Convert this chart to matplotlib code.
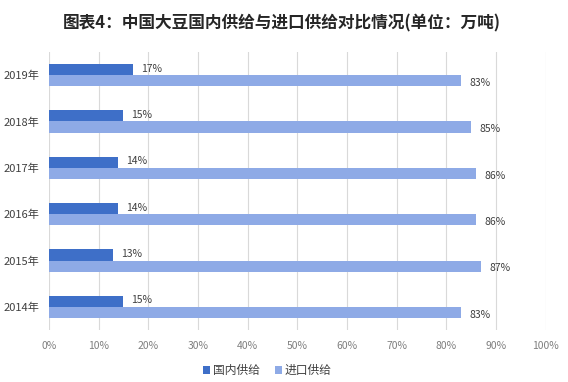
import numpy as np
import matplotlib.pyplot as plt

plt.rcParams['font.family'] = ['Noto Sans CJK SC', 'DejaVu Sans']

years = ['2014年', '2015年', '2016年', '2017年', '2018年', '2019年']
domestic = [15, 13, 14, 14, 15, 17]
imported = [83, 87, 86, 86, 85, 83]
series_names = ['国内供给', '进口供给']
colors = ['#3e6fc8', '#8eaae6']

fig = plt.figure(figsize=(5.68, 3.82), dpi=100)
ax = fig.add_axes([0.086, 0.136, 0.875, 0.728])

y = np.arange(len(years))
h = 0.24
b1 = ax.barh(y + h / 2, domestic, height=h, color=colors[0], label=series_names[0], zorder=3)
b2 = ax.barh(y - h / 2, imported, height=h, color=colors[1], label=series_names[1], zorder=3)

for bar, v in zip(b1, domestic):
    ax.text(bar.get_width() + 1.6, bar.get_y() + bar.get_height() / 2 + 0.02, f'{v}%',
            va='center', ha='left', fontsize=7.5, color='#404040')
for bar, v in zip(b2, imported):
    ax.text(bar.get_width() + 1.6, bar.get_y() + bar.get_height() / 2 - 0.05, f'{v}%',
            va='center', ha='left', fontsize=7.5, color='#404040')

ax.set_xlim(0, 100)
ax.set_ylim(-0.5, 5.5)
ax.set_xticks(np.arange(0, 101, 10))
ax.set_xticklabels([f'{t}%' for t in range(0, 101, 10)])
ax.set_yticks(y)
ax.set_yticklabels(years)
ax.tick_params(axis='x', length=0, labelsize=7.5, colors='#7f7f7f', pad=8)
ax.tick_params(axis='y', length=0, labelsize=8, colors='#404040', pad=7)
ax.grid(axis='x', color='#d9d9d9', linewidth=0.8, zorder=0)
for s in ax.spines.values():
    s.set_visible(False)

fig.suptitle('图表4：中国大豆国内供给与进口供给对比情况(单位：万吨)', x=0.496, y=0.962,
             fontsize=12, fontweight='bold', color='#262626')

ax.legend(loc='upper center', bbox_to_anchor=(0.44, -0.085), ncol=2, frameon=False,
          fontsize=8.5, handlelength=0.6, handleheight=0.6, handletextpad=0.2,
          columnspacing=1.3, labelcolor='#404040')

fig.savefig('out.png', dpi=100, facecolor='white')
